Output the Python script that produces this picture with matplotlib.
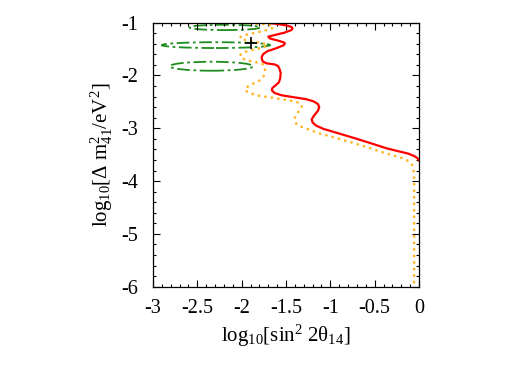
import matplotlib
matplotlib.use("Agg")
import matplotlib.pyplot as plt
from matplotlib.patches import Ellipse
from matplotlib.ticker import MultipleLocator

plt.rcParams['font.family'] = ['Liberation Serif', 'DejaVu Serif']
plt.rcParams['mathtext.fontset'] = 'custom'
plt.rcParams['mathtext.rm'] = 'Liberation Serif'
plt.rcParams['mathtext.it'] = 'Liberation Serif:italic'
plt.rcParams['axes.unicode_minus'] = False

# red solid contour
red_x = [-1.72, -1.62, -1.50, -1.44, -1.425, -1.44, -1.52, -1.63, -1.70, -1.68, -1.59,
         -1.53, -1.512, -1.53, -1.62, -1.71, -1.76, -1.775, -1.765, -1.72, -1.63,
         -1.59, -1.575, -1.56, -1.565, -1.58, -1.62, -1.655, -1.66, -1.63, -1.55,
         -1.42, -1.27, -1.19, -1.14, -1.125, -1.14, -1.18, -1.21, -1.20, -1.16,
         -1.08, -0.96, -0.74, -0.55, -0.365, -0.22, -0.12, -0.05, -0.015, 0.0]
red_y = [-1.0, -1.02, -1.05, -1.08, -1.107, -1.14, -1.19, -1.235, -1.265, -1.30, -1.34,
         -1.37, -1.39, -1.43, -1.49, -1.54, -1.60, -1.66, -1.73, -1.77, -1.79,
         -1.82, -1.87, -1.95, -2.05, -2.13, -2.19, -2.24, -2.28, -2.33, -2.375,
         -2.41, -2.45, -2.49, -2.54, -2.60, -2.67, -2.75, -2.83, -2.89, -2.95,
         -3.01, -3.07, -3.18, -3.28, -3.38, -3.44, -3.48, -3.53, -3.57, -3.61]

# orange dotted contour
orange_x = [-2.05, -1.85, -1.70, -1.64, -1.66, -1.76, -1.90, -1.99, -2.02, -1.98, -1.86,
            -1.76, -1.71, -1.73, -1.81, -1.92, -1.99, -2.02, -1.99, -1.93, -1.85,
            -1.775, -1.745, -1.737, -1.74, -1.76, -1.81, -1.89, -1.95, -1.96, -1.92,
            -1.82, -1.66, -1.51, -1.40, -1.34, -1.32, -1.34, -1.38, -1.40, -1.40,
            -1.37, -1.30, -1.117, -0.92, -0.74, -0.58, -0.44, -0.30, -0.18, -0.11,
            -0.075, -0.062, -0.056, -0.055, -0.055]
orange_y = [-1.0, -1.015, -1.035, -1.07, -1.11, -1.16, -1.21, -1.245, -1.28, -1.32, -1.36,
            -1.39, -1.42, -1.45, -1.49, -1.53, -1.57, -1.62, -1.68, -1.72, -1.745,
            -1.77, -1.81, -1.88, -1.96, -2.04, -2.11, -2.17, -2.23, -2.28, -2.33,
            -2.38, -2.42, -2.46, -2.49, -2.53, -2.58, -2.65, -2.73, -2.80, -2.875,
            -2.94, -2.99, -3.10, -3.19, -3.28, -3.36, -3.44, -3.51, -3.57, -3.63,
            -3.70, -3.78, -3.88, -4.0, -6.0]

# green dash-dot islands (centre, full width, full height)
ell_cx = [-2.19, -2.29, -2.34]
ell_cy = [-1.09, -1.425, -1.825]
ell_w = [0.80, 1.22, 0.94]
ell_h = [0.10, 0.11, 0.17]

best_fit = (-1.895, -1.39)

fig = plt.figure(figsize=(5.32, 3.73), dpi=100)
ax = fig.add_axes([0.2876, 0.2314, 0.5, 0.7078])

for cx, cy, w, h in zip(ell_cx, ell_cy, ell_w, ell_h):
    ax.add_patch(Ellipse((cx, cy), w, h, fill=False, edgecolor='#1f8c1f',
                         linestyle=(0, (7, 2, 1.5, 2)), linewidth=1.3))

ax.plot(orange_x, orange_y, color='#ffb627', linestyle=(0, (0.05, 2.3)), linewidth=2.0,
        dash_capstyle='round')
ax.plot(red_x, red_y, color='#ff0000', linewidth=1.6, solid_joinstyle='round')
ax.plot(*best_fit, marker='+', color='black', markersize=8, markeredgewidth=1.2)

ax.set_xlim(-3, 0)
ax.set_ylim(-6, -1)
ax.xaxis.set_minor_locator(MultipleLocator(0.1))
ax.yaxis.set_minor_locator(MultipleLocator(0.2))
ax.set_xticks([-3, -2.5, -2, -1.5, -1, -0.5, 0])
ax.set_xticklabels(['-3', '-2.5', '-2', '-1.5', '-1', '-0.5', '0'])
ax.set_yticks([-6, -5, -4, -3, -2, -1])
ax.set_yticklabels(['-6', '-5', '-4', '-3', '-2', '-1'])
ax.tick_params(which='both', direction='in', top=True, right=True, labelsize=14.5)
ax.tick_params(axis='x', pad=9)
ax.tick_params(axis='y', pad=11)
ax.tick_params(which='major', length=5, width=0.8)
ax.tick_params(which='minor', length=2.5, width=0.8)
for s in ax.spines.values():
    s.set_linewidth(0.9)

ax.set_xlabel(r'$\mathrm{log}_{10}[\mathrm{sin}^2\ 2\mathrm{θ}_{14}]$', fontsize=15, labelpad=3)
ax.set_ylabel(r'$\mathrm{log}_{10}[\Delta\ \mathrm{m}^2_{41}/\mathrm{eV}^2]$', fontsize=15, labelpad=4)

fig.savefig('out.png', dpi=100)
